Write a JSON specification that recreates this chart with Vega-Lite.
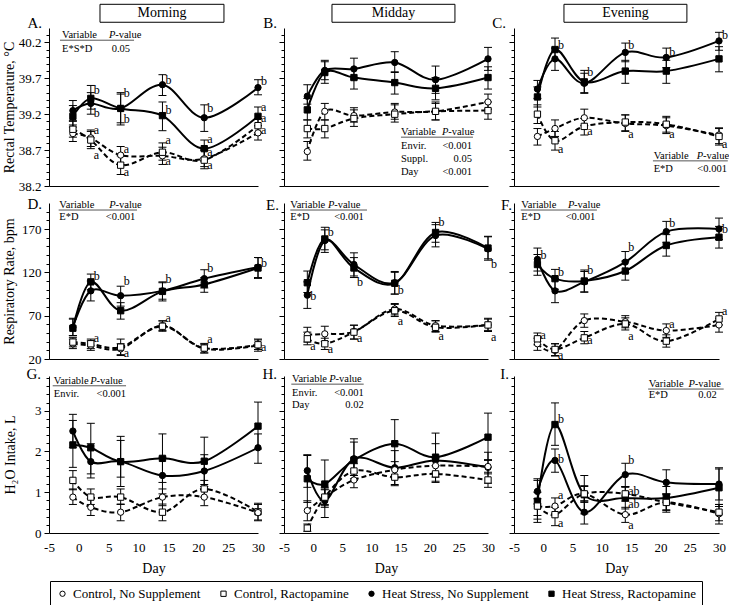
{
"$schema":"https://vega.github.io/schema/vega-lite/v6.json",
"bounds":"flush",
"columns":3,
"spacing":{"row":17,"column":26},
"padding":{"left":2,"top":3,"right":5,"bottom":30},
"config":{"view":{"stroke":null},"font":"Liberation Serif","text":{"font":"Liberation Serif","color":"black"},
"axis":{"labelFont":"Liberation Serif","labelFontSize":13,"labelColor":"black","titleFont":"Liberation Serif","titleFontSize":14,"titleFontWeight":"normal","titleColor":"black","domainColor":"black","tickColor":"black","grid":false}},
"datasets":{
"d":[
{"p":"A","g":"HN","d":-1,"m":39.25,"l":39.11,"h":39.39},{"p":"A","g":"HN","d":2,"m":39.35,"l":39.2,"h":39.5},{"p":"A","g":"HN","d":7,"m":39.28,"l":39.08,"h":39.48},{"p":"A","g":"HN","d":14,"m":39.61,"l":39.46,"h":39.75},{"p":"A","g":"HN","d":21,"m":39.15,"l":38.96,"h":39.33},{"p":"A","g":"HN","d":30,"m":39.57,"l":39.47,"h":39.68},
{"p":"A","g":"HR","d":-1,"m":39.17,"l":39.02,"h":39.32},{"p":"A","g":"HR","d":2,"m":39.42,"l":39.27,"h":39.6},{"p":"A","g":"HR","d":7,"m":39.28,"l":39.05,"h":39.5},{"p":"A","g":"HR","d":14,"m":39.18,"l":38.97,"h":39.37},{"p":"A","g":"HR","d":21,"m":38.72,"l":38.59,"h":38.84},{"p":"A","g":"HR","d":30,"m":39.17,"l":39.04,"h":39.3},
{"p":"A","g":"CN","d":-1,"m":38.93,"l":38.82,"h":39.05},{"p":"A","g":"CN","d":2,"m":38.87,"l":38.75,"h":38.98},{"p":"A","g":"CN","d":7,"m":38.63,"l":38.5,"h":38.75},{"p":"A","g":"CN","d":14,"m":38.62,"l":38.5,"h":38.74},{"p":"A","g":"CN","d":21,"m":38.58,"l":38.47,"h":38.7},{"p":"A","g":"CN","d":30,"m":38.94,"l":38.84,"h":39.04},
{"p":"A","g":"CR","d":-1,"m":38.99,"l":38.88,"h":39.1},{"p":"A","g":"CR","d":2,"m":38.84,"l":38.72,"h":38.96},{"p":"A","g":"CR","d":7,"m":38.49,"l":38.36,"h":38.62},{"p":"A","g":"CR","d":14,"m":38.67,"l":38.56,"h":38.8},{"p":"A","g":"CR","d":21,"m":38.56,"l":38.44,"h":38.7},{"p":"A","g":"CR","d":30,"m":39.04,"l":38.94,"h":39.14},
{"p":"B","g":"HN","d":-1,"m":39.45,"l":39.34,"h":39.61},{"p":"B","g":"HN","d":2,"m":39.81,"l":39.68,"h":39.95},{"p":"B","g":"HN","d":7,"m":39.83,"l":39.69,"h":39.98},{"p":"B","g":"HN","d":14,"m":39.92,"l":39.78,"h":40.07},{"p":"B","g":"HN","d":21,"m":39.68,"l":39.49,"h":39.87},{"p":"B","g":"HN","d":30,"m":39.97,"l":39.81,"h":40.13},
{"p":"B","g":"HR","d":-1,"m":39.26,"l":39.12,"h":39.42},{"p":"B","g":"HR","d":2,"m":39.78,"l":39.63,"h":39.93},{"p":"B","g":"HR","d":7,"m":39.71,"l":39.55,"h":39.84},{"p":"B","g":"HR","d":14,"m":39.64,"l":39.48,"h":39.79},{"p":"B","g":"HR","d":21,"m":39.56,"l":39.4,"h":39.71},{"p":"B","g":"HR","d":30,"m":39.71,"l":39.55,"h":39.86},
{"p":"B","g":"CN","d":-1,"m":38.68,"l":38.56,"h":38.82},{"p":"B","g":"CN","d":2,"m":39.24,"l":39.12,"h":39.35},{"p":"B","g":"CN","d":7,"m":39.18,"l":39.09,"h":39.29},{"p":"B","g":"CN","d":14,"m":39.23,"l":39.13,"h":39.35},{"p":"B","g":"CN","d":21,"m":39.24,"l":39.12,"h":39.37},{"p":"B","g":"CN","d":30,"m":39.37,"l":39.27,"h":39.48},
{"p":"B","g":"CR","d":-1,"m":39.0,"l":38.87,"h":39.12},{"p":"B","g":"CR","d":2,"m":39.0,"l":38.87,"h":39.12},{"p":"B","g":"CR","d":7,"m":39.14,"l":39.03,"h":39.26},{"p":"B","g":"CR","d":14,"m":39.2,"l":39.09,"h":39.33},{"p":"B","g":"CR","d":21,"m":39.24,"l":39.12,"h":39.35},{"p":"B","g":"CR","d":30,"m":39.25,"l":39.13,"h":39.37},
{"p":"C","g":"HN","d":-1,"m":39.55,"l":39.42,"h":39.67},{"p":"C","g":"HN","d":2,"m":39.97,"l":39.81,"h":40.12},{"p":"C","g":"HN","d":7,"m":39.63,"l":39.49,"h":39.77},{"p":"C","g":"HN","d":14,"m":40.06,"l":39.93,"h":40.19},{"p":"C","g":"HN","d":21,"m":39.99,"l":39.85,"h":40.12},{"p":"C","g":"HN","d":30,"m":40.22,"l":40.09,"h":40.34},
{"p":"C","g":"HR","d":-1,"m":39.44,"l":39.3,"h":39.58},{"p":"C","g":"HR","d":2,"m":40.1,"l":39.95,"h":40.26},{"p":"C","g":"HR","d":7,"m":39.65,"l":39.5,"h":39.81},{"p":"C","g":"HR","d":14,"m":39.8,"l":39.63,"h":39.95},{"p":"C","g":"HR","d":21,"m":39.8,"l":39.63,"h":39.95},{"p":"C","g":"HR","d":30,"m":39.97,"l":39.79,"h":40.14},
{"p":"C","g":"CN","d":-1,"m":38.89,"l":38.77,"h":39.0},{"p":"C","g":"CN","d":2,"m":39.0,"l":38.89,"h":39.12},{"p":"C","g":"CN","d":7,"m":39.15,"l":39.04,"h":39.27},{"p":"C","g":"CN","d":14,"m":39.07,"l":38.96,"h":39.19},{"p":"C","g":"CN","d":21,"m":39.04,"l":38.93,"h":39.15},{"p":"C","g":"CN","d":30,"m":38.91,"l":38.79,"h":39.01},
{"p":"C","g":"CR","d":-1,"m":39.2,"l":39.07,"h":39.33},{"p":"C","g":"CR","d":2,"m":38.83,"l":38.7,"h":38.96},{"p":"C","g":"CR","d":7,"m":39.03,"l":38.91,"h":39.14},{"p":"C","g":"CR","d":14,"m":39.09,"l":38.97,"h":39.19},{"p":"C","g":"CR","d":21,"m":39.06,"l":38.95,"h":39.17},{"p":"C","g":"CR","d":30,"m":38.89,"l":38.77,"h":39.0},
{"p":"D","g":"HR","d":-1,"m":55.5,"l":47,"h":66},{"p":"D","g":"HR","d":2,"m":109,"l":100,"h":118},{"p":"D","g":"HR","d":7,"m":75.7,"l":66,"h":85},{"p":"D","g":"HR","d":14,"m":98,"l":89,"h":108},{"p":"D","g":"HR","d":21,"m":106,"l":97,"h":114},{"p":"D","g":"HR","d":30,"m":125,"l":113,"h":137},
{"p":"D","g":"HN","d":-1,"m":56.6,"l":47,"h":67},{"p":"D","g":"HN","d":2,"m":98.6,"l":87,"h":110},{"p":"D","g":"HN","d":7,"m":93,"l":81,"h":104},{"p":"D","g":"HN","d":14,"m":98.6,"l":87,"h":109},{"p":"D","g":"HN","d":21,"m":112.7,"l":102,"h":123},{"p":"D","g":"HN","d":30,"m":126,"l":114,"h":137},
{"p":"D","g":"CN","d":-1,"m":37.6,"l":32,"h":43},{"p":"D","g":"CN","d":2,"m":35.6,"l":30,"h":41},{"p":"D","g":"CN","d":7,"m":31.8,"l":25,"h":37.6},{"p":"D","g":"CN","d":14,"m":58.5,"l":53,"h":64},{"p":"D","g":"CN","d":21,"m":31.8,"l":27,"h":37},{"p":"D","g":"CN","d":30,"m":35.6,"l":29,"h":43},
{"p":"D","g":"CR","d":-1,"m":39.5,"l":34,"h":45},{"p":"D","g":"CR","d":2,"m":37.6,"l":32,"h":43},{"p":"D","g":"CR","d":7,"m":33.7,"l":24,"h":43},{"p":"D","g":"CR","d":14,"m":57.8,"l":52,"h":64},{"p":"D","g":"CR","d":21,"m":32.6,"l":27,"h":38},{"p":"D","g":"CR","d":30,"m":36.4,"l":31,"h":42},
{"p":"E","g":"HR","d":-1,"m":108,"l":96.7,"h":121.5},{"p":"E","g":"HR","d":2,"m":158.5,"l":146,"h":172},{"p":"E","g":"HR","d":7,"m":125,"l":114,"h":137},{"p":"E","g":"HR","d":14,"m":107.4,"l":94.8,"h":121},{"p":"E","g":"HR","d":21,"m":166,"l":154.7,"h":177.6},{"p":"E","g":"HR","d":30,"m":148,"l":135.6,"h":161.6},
{"p":"E","g":"HN","d":-1,"m":93.7,"l":78.4,"h":109},{"p":"E","g":"HN","d":2,"m":156.6,"l":143,"h":169},{"p":"E","g":"HN","d":7,"m":129,"l":115.8,"h":142.5},{"p":"E","g":"HN","d":14,"m":108,"l":95,"h":120},{"p":"E","g":"HN","d":21,"m":162.4,"l":149.4,"h":175},{"p":"E","g":"HN","d":30,"m":147,"l":134,"h":161},
{"p":"E","g":"CN","d":-1,"m":47.9,"l":39.5,"h":56.6},{"p":"E","g":"CN","d":2,"m":49,"l":40.2,"h":57.8},{"p":"E","g":"CN","d":7,"m":51.7,"l":43,"h":59},{"p":"E","g":"CN","d":14,"m":77.6,"l":70.8,"h":84},{"p":"E","g":"CN","d":21,"m":58.5,"l":51.7,"h":64.3},{"p":"E","g":"CN","d":30,"m":59.3,"l":51.7,"h":67},
{"p":"E","g":"CR","d":-1,"m":43.3,"l":36.4,"h":51},{"p":"E","g":"CR","d":2,"m":37.6,"l":31,"h":44},{"p":"E","g":"CR","d":7,"m":51,"l":43,"h":59},{"p":"E","g":"CR","d":14,"m":75.7,"l":69,"h":83},{"p":"E","g":"CR","d":21,"m":56.6,"l":51,"h":64},{"p":"E","g":"CR","d":30,"m":59.3,"l":53,"h":66},
{"p":"F","g":"HN","d":-1,"m":134.9,"l":121.5,"h":148},{"p":"F","g":"HN","d":2,"m":98.6,"l":85,"h":112.7},{"p":"F","g":"HN","d":7,"m":109,"l":97,"h":121},{"p":"F","g":"HN","d":14,"m":131.8,"l":119.6,"h":144},{"p":"F","g":"HN","d":21,"m":167,"l":154.7,"h":178.8},{"p":"F","g":"HN","d":30,"m":170,"l":157.8,"h":182.6},
{"p":"F","g":"HR","d":-1,"m":129,"l":116.6,"h":140.6},{"p":"F","g":"HR","d":2,"m":112.7,"l":100.5,"h":123.4},{"p":"F","g":"HR","d":7,"m":110,"l":97.5,"h":122.7},{"p":"F","g":"HR","d":14,"m":121.5,"l":111,"h":133},{"p":"F","g":"HR","d":21,"m":151,"l":138.7,"h":163.5},{"p":"F","g":"HR","d":30,"m":160.5,"l":148,"h":173},
{"p":"F","g":"CN","d":-1,"m":37.6,"l":30,"h":44},{"p":"F","g":"CN","d":2,"m":29.9,"l":23.4,"h":37.6},{"p":"F","g":"CN","d":7,"m":64.3,"l":56.6,"h":72},{"p":"F","g":"CN","d":14,"m":63,"l":56,"h":70},{"p":"F","g":"CN","d":21,"m":52.8,"l":45,"h":60.5},{"p":"F","g":"CN","d":30,"m":59.3,"l":51,"h":67},
{"p":"F","g":"CR","d":-1,"m":43.3,"l":36.4,"h":50},{"p":"F","g":"CR","d":2,"m":31,"l":24,"h":37.6},{"p":"F","g":"CR","d":7,"m":44.4,"l":37.6,"h":51.7},{"p":"F","g":"CR","d":14,"m":60.5,"l":53.5,"h":67.5},{"p":"F","g":"CR","d":21,"m":40.6,"l":33.7,"h":47.9},{"p":"F","g":"CR","d":30,"m":66.2,"l":59.3,"h":73.8},
{"p":"G","g":"HR","d":-1,"m":2.16,"l":1.61,"h":2.76},{"p":"G","g":"HR","d":2,"m":2.09,"l":1.45,"h":2.69},{"p":"G","g":"HR","d":7,"m":1.75,"l":1.14,"h":2.37},{"p":"G","g":"HR","d":14,"m":1.83,"l":1.24,"h":2.43},{"p":"G","g":"HR","d":21,"m":1.76,"l":1.19,"h":2.35},{"p":"G","g":"HR","d":30,"m":2.62,"l":2.06,"h":3.21},
{"p":"G","g":"HN","d":-1,"m":2.5,"l":2.09,"h":2.91},{"p":"G","g":"HN","d":2,"m":1.75,"l":1.35,"h":2.19},{"p":"G","g":"HN","d":7,"m":1.75,"l":1.37,"h":2.27},{"p":"G","g":"HN","d":14,"m":1.41,"l":0.96,"h":1.86},{"p":"G","g":"HN","d":21,"m":1.52,"l":1.14,"h":1.92},{"p":"G","g":"HN","d":30,"m":2.09,"l":1.71,"h":2.43},
{"p":"G","g":"CR","d":-1,"m":1.29,"l":1.06,"h":1.53},{"p":"G","g":"CR","d":2,"m":0.88,"l":0.7,"h":1.08},{"p":"G","g":"CR","d":7,"m":0.88,"l":0.7,"h":1.08},{"p":"G","g":"CR","d":14,"m":0.51,"l":0.3,"h":0.71},{"p":"G","g":"CR","d":21,"m":1.08,"l":0.88,"h":1.29},{"p":"G","g":"CR","d":30,"m":0.52,"l":0.32,"h":0.73},
{"p":"G","g":"CN","d":-1,"m":0.88,"l":0.7,"h":1.08},{"p":"G","g":"CN","d":2,"m":0.63,"l":0.43,"h":0.84},{"p":"G","g":"CN","d":7,"m":0.51,"l":0.3,"h":0.71},{"p":"G","g":"CN","d":14,"m":0.88,"l":0.67,"h":1.08},{"p":"G","g":"CN","d":21,"m":0.88,"l":0.67,"h":1.08},{"p":"G","g":"CN","d":30,"m":0.5,"l":0.3,"h":0.7},
{"p":"H","g":"HN","d":-1,"m":1.53,"l":1.12,"h":1.92},{"p":"H","g":"HN","d":2,"m":0.79,"l":0.38,"h":1.12},{"p":"H","g":"HN","d":7,"m":1.82,"l":1.41,"h":2.23},{"p":"H","g":"HN","d":14,"m":1.6,"l":1.19,"h":2.02},{"p":"H","g":"HN","d":21,"m":1.78,"l":1.37,"h":2.19},{"p":"H","g":"HN","d":30,"m":1.61,"l":1.22,"h":1.98},
{"p":"H","g":"HR","d":-1,"m":1.33,"l":0.75,"h":1.9},{"p":"H","g":"HR","d":2,"m":1.2,"l":0.63,"h":1.79},{"p":"H","g":"HR","d":7,"m":1.79,"l":1.29,"h":2.31},{"p":"H","g":"HR","d":14,"m":2.19,"l":1.6,"h":2.78},{"p":"H","g":"HR","d":21,"m":1.86,"l":1.27,"h":2.45},{"p":"H","g":"HR","d":30,"m":2.35,"l":1.78,"h":2.94},
{"p":"H","g":"CN","d":-1,"m":0.55,"l":0.3,"h":0.79},{"p":"H","g":"CN","d":2,"m":0.88,"l":0.67,"h":1.08},{"p":"H","g":"CN","d":7,"m":1.3,"l":1.11,"h":1.49},{"p":"H","g":"CN","d":14,"m":1.55,"l":1.35,"h":1.75},{"p":"H","g":"CN","d":21,"m":1.65,"l":1.47,"h":1.84},{"p":"H","g":"CN","d":30,"m":1.63,"l":1.45,"h":1.8},
{"p":"H","g":"CR","d":-1,"m":0.12,"l":0.04,"h":0.22},{"p":"H","g":"CR","d":2,"m":0.88,"l":0.7,"h":1.06},{"p":"H","g":"CR","d":7,"m":1.52,"l":1.33,"h":1.7},{"p":"H","g":"CR","d":14,"m":1.37,"l":1.16,"h":1.57},{"p":"H","g":"CR","d":21,"m":1.45,"l":1.24,"h":1.65},{"p":"H","g":"CR","d":30,"m":1.3,"l":1.12,"h":1.49},
{"p":"I","g":"HN","d":-1,"m":1.02,"l":0.71,"h":1.33},{"p":"I","g":"HN","d":2,"m":1.78,"l":1.49,"h":2.06},{"p":"I","g":"HN","d":7,"m":0.51,"l":0.22,"h":0.79},{"p":"I","g":"HN","d":14,"m":1.43,"l":1.14,"h":1.71},{"p":"I","g":"HN","d":21,"m":1.24,"l":0.94,"h":1.55},{"p":"I","g":"HN","d":30,"m":1.2,"l":0.81,"h":1.6},
{"p":"I","g":"HR","d":-1,"m":0.78,"l":0.34,"h":1.29},{"p":"I","g":"HR","d":2,"m":2.66,"l":2.15,"h":3.19},{"p":"I","g":"HR","d":7,"m":0.94,"l":0.47,"h":1.41},{"p":"I","g":"HR","d":14,"m":0.86,"l":0.59,"h":1.12},{"p":"I","g":"HR","d":21,"m":0.86,"l":0.57,"h":1.14},{"p":"I","g":"HR","d":30,"m":1.11,"l":0.65,"h":1.57},
{"p":"I","g":"CN","d":-1,"m":0.66,"l":0.26,"h":1.0},{"p":"I","g":"CN","d":2,"m":0.66,"l":0.47,"h":0.86},{"p":"I","g":"CN","d":7,"m":0.96,"l":0.75,"h":1.16},{"p":"I","g":"CN","d":14,"m":0.45,"l":0.26,"h":0.63},{"p":"I","g":"CN","d":21,"m":0.75,"l":0.55,"h":0.96},{"p":"I","g":"CN","d":30,"m":0.47,"l":0.22,"h":0.7},
{"p":"I","g":"CR","d":-1,"m":0.66,"l":0.43,"h":0.84},{"p":"I","g":"CR","d":2,"m":0.45,"l":0.18,"h":0.63},{"p":"I","g":"CR","d":7,"m":0.96,"l":0.78,"h":1.14},{"p":"I","g":"CR","d":14,"m":0.96,"l":0.78,"h":1.14},{"p":"I","g":"CR","d":21,"m":0.75,"l":0.51,"h":0.96},{"p":"I","g":"CR","d":30,"m":0.51,"l":0.3,"h":0.7}
],
"lt":[
{"p":"A","d":2,"m":39.54,"t":"b"},{"p":"A","d":2,"m":39.21,"t":"b"},{"p":"A","d":2,"m":38.98,"t":"a"},{"p":"A","d":2,"m":38.63,"t":"a"},
{"p":"A","d":7,"m":39.49,"t":"b"},{"p":"A","d":7,"m":39.13,"t":"b"},{"p":"A","d":7,"m":38.72,"t":"a"},{"p":"A","d":7,"m":38.39,"t":"a"},
{"p":"A","d":14,"m":39.68,"t":"b"},{"p":"A","d":14,"m":39.26,"t":"b"},{"p":"A","d":14,"m":38.84,"t":"a"},{"p":"A","d":14,"m":38.55,"t":"a"},
{"p":"A","d":21,"m":39.28,"t":"b"},{"p":"A","d":21,"m":38.86,"t":"a"},{"p":"A","d":21,"m":38.68,"t":"a"},{"p":"A","d":21,"m":38.49,"t":"a"},
{"p":"A","d":30,"m":39.66,"t":"b"},{"p":"A","d":30,"m":39.3,"t":"a"},{"p":"A","d":30,"m":39.14,"t":"a"},{"p":"A","d":30,"m":38.98,"t":"a"},
{"p":"C","d":2,"m":40.17,"t":"b"},{"p":"C","d":2,"m":38.72,"t":"a"},{"p":"C","d":7,"m":39.79,"t":"b"},{"p":"C","d":7,"m":38.96,"t":"a"},{"p":"C","d":14,"m":40.17,"t":"b"},{"p":"C","d":14,"m":38.93,"t":"a"},{"p":"C","d":21,"m":40.06,"t":"b"},{"p":"C","d":21,"m":38.92,"t":"a"},{"p":"C","d":30,"m":40.3,"t":"b"},{"p":"C","d":30,"m":38.79,"t":"a"},
{"p":"D","d":2,"m":115.8,"t":"b"},{"p":"D","d":2,"m":44,"t":"a"},{"p":"D","d":7,"m":110,"t":"b"},{"p":"D","d":7,"m":27.3,"t":"a"},{"p":"D","d":14,"m":112.7,"t":"b"},{"p":"D","d":14,"m":67,"t":"a"},{"p":"D","d":21,"m":125.3,"t":"b"},{"p":"D","d":21,"m":43.3,"t":"a"},{"p":"D","d":30,"m":131,"t":"b"},{"p":"D","d":30,"m":33.7,"t":"a"},
{"p":"E","d":-1,"m":92.9,"t":"b"},{"p":"E","d":-1,"m":34.9,"t":"a"},{"p":"E","d":2,"m":166.2,"t":"b"},{"p":"E","d":2,"m":31.8,"t":"a"},{"p":"E","d":7,"m":109,"t":"b"},{"p":"E","d":7,"m":44,"t":"a"},{"p":"E","d":14,"m":99.8,"t":"b"},{"p":"E","d":14,"m":64.3,"t":"a"},{"p":"E","d":21,"m":177.6,"t":"b"},{"p":"E","d":21,"m":46.3,"t":"a"},{"p":"E","d":30,"m":130,"t":"b"},{"p":"E","d":30,"m":45,"t":"a"},
{"p":"F","d":-1,"m":139.5,"t":"b"},{"p":"F","d":-1,"m":47.9,"t":"a"},{"p":"F","d":2,"m":120.8,"t":"b"},{"p":"F","d":2,"m":25,"t":"a"},{"p":"F","d":7,"m":122.7,"t":"b"},{"p":"F","d":7,"m":42.5,"t":"a"},{"p":"F","d":14,"m":149,"t":"b"},{"p":"F","d":14,"m":46.3,"t":"a"},{"p":"F","d":21,"m":176.9,"t":"b"},{"p":"F","d":21,"m":60.5,"t":"a"},{"p":"F","d":30,"m":170,"t":"b"},{"p":"F","d":30,"m":75,"t":"a"},
{"p":"I","d":2,"m":2.8,"t":"b"},{"p":"I","d":2,"m":1.82,"t":"b"},{"p":"I","d":2,"m":0.94,"t":"a"},{"p":"I","d":2,"m":0.25,"t":"a"},{"p":"I","d":14,"m":1.79,"t":"b"},{"p":"I","d":14,"m":1.02,"t":"ab"},{"p":"I","d":14,"m":0.71,"t":"ab"},{"p":"I","d":14,"m":0.2,"t":"a"}
]},
"concat":[
{"width":209,"height":158,"resolve":{"axis":{"x":"independent","y":"independent"}},"layer":[
{"encoding":{"x":{"field":"d","type":"quantitative","scale":{"domain":[-5,30],"nice":false,"zero":false},"axis":{"title":null,"labels":false,"ticks":false}},
"y":{"field":"m","type":"quantitative","scale":{"domain":[38.2,40.4],"nice":false,"zero":false},"axis":{"title":"Rectal Temperature, °C","values":[38.2,38.3,38.4,38.5,38.6,38.7,38.8,38.9,39,39.1,39.2,39.3,39.4,39.5,39.6,39.7,39.8,39.9,40,40.1,40.2,40.3],"labelExpr":"round(datum.value*10)%5==2?format(datum.value,'.1f'):''","tickSize":{"condition":{"test":"round(datum.value*10)%5==2","value":5},"value":3},"labelPadding":3,"titlePadding":2,"labelOverlap":false,"labelFlush":false,"labelBound":false}}},
"layer":[
{"data":{"name":"d"},"transform":[{"filter":"datum.p=='A'"}],"mark":{"type":"rule","color":"black","strokeWidth":1},"encoding":{"y":{"field":"l","type":"quantitative"},"y2":{"field":"h"}}},
{"data":{"name":"d"},"transform":[{"filter":"datum.p=='A'"},{"fold":["l","h"],"as":["k","m"]}],"mark":{"type":"tick","orient":"horizontal","color":"black","size":8,"thickness":1,"opacity":1}},
{"data":{"name":"d"},"transform":[{"filter":"datum.p=='A'&&(datum.g=='CN'||datum.g=='CR')"}],"mark":{"type":"line","interpolate":"cardinal","tension":0,"color":"black","strokeWidth":2,"strokeDash":[5,3]},"encoding":{"detail":{"field":"g"}}},
{"data":{"name":"d"},"transform":[{"filter":"datum.p=='A'&&(datum.g=='HN'||datum.g=='HR')"}],"mark":{"type":"line","interpolate":"cardinal","tension":0,"color":"black","strokeWidth":2},"encoding":{"detail":{"field":"g"}}},
{"data":{"name":"d"},"transform":[{"filter":"datum.p=='A'"}],"mark":{"type":"point","filled":false,"size":40,"stroke":"black","strokeWidth":1,"opacity":1},"encoding":{
"shape":{"field":"g","type":"nominal","title":null,"scale":{"domain":["CN","CR","HN","HR"],"range":["circle","square","circle","square"]},"legend":{"orient":"none","legendX":1,"legendY":553,"direction":"horizontal","title":null,"strokeColor":"black","fillColor":"white","padding":6,"symbolSize":28,"symbolStrokeColor":"black","symbolStrokeWidth":1,"symbolOpacity":1,"labelFont":"Liberation Serif","labelFontSize":13,"labelColor":"black","labelOffset":4,"columnPadding":16,"labelLimit":0,"encode":{"symbols":{"update":{"stroke":{"value":"black"},"strokeWidth":{"value":1}}}},"labelExpr":"datum.label=='CN'?'Control, No Supplement':datum.label=='CR'?'Control, Ractopamine':datum.label=='HN'?'Heat Stress, No Supplement':'Heat Stress, Ractopamine'"}},
"fill":{"field":"g","type":"nominal","title":null,"scale":{"domain":["CN","CR","HN","HR"],"range":["white","white","black","black"]},"legend":{"orient":"none","legendX":1,"legendY":553,"direction":"horizontal","title":null,"strokeColor":"black","fillColor":"white","padding":6,"symbolSize":28,"symbolStrokeColor":"black","symbolStrokeWidth":1,"symbolOpacity":1,"labelFont":"Liberation Serif","labelFontSize":13,"labelColor":"black","labelOffset":4,"columnPadding":16,"labelLimit":0,"encode":{"symbols":{"update":{"stroke":{"value":"black"},"strokeWidth":{"value":1}}}},"labelExpr":"datum.label=='CN'?'Control, No Supplement':datum.label=='CR'?'Control, Ractopamine':datum.label=='HN'?'Heat Stress, No Supplement':'Heat Stress, Ractopamine'"}}}},
{"data":{"name":"lt"},"transform":[{"filter":"datum.p=='A'"}],"mark":{"type":"text","align":"left","baseline":"middle","dx":3,"fontSize":12},"encoding":{"text":{"field":"t"}}}
]},
{"data":{"values":[{}]},"mark":{"type":"text","text":"Variable","align":"left","baseline":"middle","fontSize":10.5},"encoding":{"x":{"datum":-2.82,"axis":null},"y":{"datum":40.3,"axis":null}}},
{"data":{"values":[{}]},"mark":{"type":"text","text":"P","fontStyle":"italic","align":"left","baseline":"middle","fontSize":10.5},"encoding":{"x":{"datum":5.05,"axis":null},"y":{"datum":40.3,"axis":null}}},
{"data":{"values":[{}]},"mark":{"type":"text","text":"-value","align":"left","baseline":"middle","dx":6.2,"fontSize":10.5},"encoding":{"x":{"datum":5.05,"axis":null},"y":{"datum":40.3,"axis":null}}},
{"data":{"values":[{}]},"mark":{"type":"rule","color":"#555555","strokeWidth":1},"encoding":{"x":{"datum":-3.16,"axis":null},"x2":{"datum":9.24},"y":{"datum":40.23,"axis":null}}},
{"data":{"values":[{}]},"mark":{"type":"text","text":"E*S*D","align":"left","baseline":"middle","fontSize":10.5},"encoding":{"x":{"datum":-2.82,"axis":null},"y":{"datum":40.11,"axis":null}}},
{"data":{"values":[{}]},"mark":{"type":"text","text":"0.05","align":"right","baseline":"middle","fontSize":10.5},"encoding":{"x":{"datum":8.57,"axis":null},"y":{"datum":40.11,"axis":null}}},
{"data":{"values":[{}]},"mark":{"type":"text","text":"A.","align":"right","baseline":"middle","dx":-7,"dy":-5,"fontSize":15},"encoding":{"x":{"datum":-5,"axis":null},"y":{"datum":40.4,"axis":null}}},
{"data":{"values":[{}]},"mark":{"type":"rect","fill":"white","stroke":"black","strokeWidth":1},"encoding":{"x":{"datum":3.54,"axis":null},"x2":{"datum":24.3},"y":{"datum":40.48,"axis":null},"y2":{"datum":40.73}}},
{"data":{"values":[{}]},"mark":{"type":"text","text":"Morning","align":"center","baseline":"middle","fontSize":14},"encoding":{"x":{"datum":13.92,"axis":null},"y":{"datum":40.605,"axis":null}}}
]},
{"width":204,"height":158,"resolve":{"axis":{"x":"independent","y":"independent"}},"layer":[
{"encoding":{"x":{"field":"d","type":"quantitative","scale":{"domain":[-5,30],"nice":false,"zero":false},"axis":{"title":null,"labels":false,"ticks":false}},
"y":{"field":"m","type":"quantitative","scale":{"domain":[38.2,40.4],"nice":false,"zero":false},"axis":{"title":null,"labels":false,"values":[38.2,38.3,38.4,38.5,38.6,38.7,38.8,38.9,39,39.1,39.2,39.3,39.4,39.5,39.6,39.7,39.8,39.9,40,40.1,40.2,40.3],"tickSize":{"condition":{"test":"round(datum.value*10)%5==2","value":5},"value":3}}}},
"layer":[
{"data":{"name":"d"},"transform":[{"filter":"datum.p=='B'"}],"mark":{"type":"rule","color":"black","strokeWidth":1},"encoding":{"y":{"field":"l","type":"quantitative"},"y2":{"field":"h"}}},
{"data":{"name":"d"},"transform":[{"filter":"datum.p=='B'"},{"fold":["l","h"],"as":["k","m"]}],"mark":{"type":"tick","orient":"horizontal","color":"black","size":8,"thickness":1,"opacity":1}},
{"data":{"name":"d"},"transform":[{"filter":"datum.p=='B'&&(datum.g=='CN'||datum.g=='CR')"}],"mark":{"type":"line","interpolate":"cardinal","tension":0,"color":"black","strokeWidth":2,"strokeDash":[5,3]},"encoding":{"detail":{"field":"g"}}},
{"data":{"name":"d"},"transform":[{"filter":"datum.p=='B'&&(datum.g=='HN'||datum.g=='HR')"}],"mark":{"type":"line","interpolate":"cardinal","tension":0,"color":"black","strokeWidth":2},"encoding":{"detail":{"field":"g"}}},
{"data":{"name":"d"},"transform":[{"filter":"datum.p=='B'"}],"mark":{"type":"point","filled":false,"size":40,"stroke":"black","strokeWidth":1,"opacity":1},"encoding":{"shape":{"field":"g","type":"nominal","title":null,"scale":{"domain":["CN","CR","HN","HR"],"range":["circle","square","circle","square"]}},"fill":{"field":"g","type":"nominal","title":null,"scale":{"domain":["CN","CR","HN","HR"],"range":["white","white","black","black"]}}}}
]},
{"data":{"values":[{}]},"mark":{"type":"text","text":"Variable","align":"left","baseline":"middle","fontSize":10.5},"encoding":{"x":{"datum":15.07,"axis":null},"y":{"datum":38.95,"axis":null}}},
{"data":{"values":[{}]},"mark":{"type":"text","text":"P","fontStyle":"italic","align":"left","baseline":"middle","fontSize":10.5},"encoding":{"x":{"datum":22.1,"axis":null},"y":{"datum":38.95,"axis":null}}},
{"data":{"values":[{}]},"mark":{"type":"text","text":"-value","align":"left","baseline":"middle","dx":6.2,"fontSize":10.5},"encoding":{"x":{"datum":22.1,"axis":null},"y":{"datum":38.95,"axis":null}}},
{"data":{"values":[{}]},"mark":{"type":"rule","color":"#555555","strokeWidth":1},"encoding":{"x":{"datum":15.07,"axis":null},"x2":{"datum":27.42},"y":{"datum":38.88,"axis":null}}},
{"data":{"values":[{}]},"mark":{"type":"text","text":["Envir.","Suppl.","Day"],"lineHeight":13,"align":"left","baseline":"middle","fontSize":10.5},"encoding":{"x":{"datum":15.07,"axis":null},"y":{"datum":38.757,"axis":null}}},
{"data":{"values":[{}]},"mark":{"type":"text","text":["<0.001","0.05","<0.001"],"lineHeight":13,"align":"right","baseline":"middle","fontSize":10.5},"encoding":{"x":{"datum":27.25,"axis":null},"y":{"datum":38.757,"axis":null}}},
{"data":{"values":[{}]},"mark":{"type":"text","text":"B.","align":"right","baseline":"middle","dx":-7,"dy":-5,"fontSize":15},"encoding":{"x":{"datum":-5,"axis":null},"y":{"datum":40.4,"axis":null}}},
{"data":{"values":[{}]},"mark":{"type":"rect","fill":"white","stroke":"black","strokeWidth":1},"encoding":{"x":{"datum":3.23,"axis":null},"x2":{"datum":24.33},"y":{"datum":40.48,"axis":null},"y2":{"datum":40.73}}},
{"data":{"values":[{}]},"mark":{"type":"text","text":"Midday","align":"center","baseline":"middle","fontSize":14},"encoding":{"x":{"datum":13.78,"axis":null},"y":{"datum":40.605,"axis":null}}}
]},
{"width":205,"height":158,"resolve":{"axis":{"x":"independent","y":"independent"}},"layer":[
{"encoding":{"x":{"field":"d","type":"quantitative","scale":{"domain":[-5,30],"nice":false,"zero":false},"axis":{"title":null,"labels":false,"ticks":false}},
"y":{"field":"m","type":"quantitative","scale":{"domain":[38.2,40.4],"nice":false,"zero":false},"axis":{"title":null,"labels":false,"values":[38.2,38.3,38.4,38.5,38.6,38.7,38.8,38.9,39,39.1,39.2,39.3,39.4,39.5,39.6,39.7,39.8,39.9,40,40.1,40.2,40.3],"tickSize":{"condition":{"test":"round(datum.value*10)%5==2","value":5},"value":3}}}},
"layer":[
{"data":{"name":"d"},"transform":[{"filter":"datum.p=='C'"}],"mark":{"type":"rule","color":"black","strokeWidth":1},"encoding":{"y":{"field":"l","type":"quantitative"},"y2":{"field":"h"}}},
{"data":{"name":"d"},"transform":[{"filter":"datum.p=='C'"},{"fold":["l","h"],"as":["k","m"]}],"mark":{"type":"tick","orient":"horizontal","color":"black","size":8,"thickness":1,"opacity":1}},
{"data":{"name":"d"},"transform":[{"filter":"datum.p=='C'&&(datum.g=='CN'||datum.g=='CR')"}],"mark":{"type":"line","interpolate":"cardinal","tension":0,"color":"black","strokeWidth":2,"strokeDash":[5,3]},"encoding":{"detail":{"field":"g"}}},
{"data":{"name":"d"},"transform":[{"filter":"datum.p=='C'&&(datum.g=='HN'||datum.g=='HR')"}],"mark":{"type":"line","interpolate":"cardinal","tension":0,"color":"black","strokeWidth":2},"encoding":{"detail":{"field":"g"}}},
{"data":{"name":"d"},"transform":[{"filter":"datum.p=='C'"}],"mark":{"type":"point","filled":false,"size":40,"stroke":"black","strokeWidth":1,"opacity":1},"encoding":{"shape":{"field":"g","type":"nominal","title":null,"scale":{"domain":["CN","CR","HN","HR"],"range":["circle","square","circle","square"]}},"fill":{"field":"g","type":"nominal","title":null,"scale":{"domain":["CN","CR","HN","HR"],"range":["white","white","black","black"]}}}},
{"data":{"name":"lt"},"transform":[{"filter":"datum.p=='C'"}],"mark":{"type":"text","align":"left","baseline":"middle","dx":3,"fontSize":12},"encoding":{"text":{"field":"t"}}}
]},
{"data":{"values":[{}]},"mark":{"type":"text","text":"Variable","align":"left","baseline":"middle","fontSize":10.5},"encoding":{"x":{"datum":18.84,"axis":null},"y":{"datum":38.62,"axis":null}}},
{"data":{"values":[{}]},"mark":{"type":"text","text":"P","fontStyle":"italic","align":"left","baseline":"middle","fontSize":10.5},"encoding":{"x":{"datum":26.2,"axis":null},"y":{"datum":38.62,"axis":null}}},
{"data":{"values":[{}]},"mark":{"type":"text","text":"-value","align":"left","baseline":"middle","dx":6.2,"fontSize":10.5},"encoding":{"x":{"datum":26.2,"axis":null},"y":{"datum":38.62,"axis":null}}},
{"data":{"values":[{}]},"mark":{"type":"rule","color":"#555555","strokeWidth":1},"encoding":{"x":{"datum":18.72,"axis":null},"x2":{"datum":31.5},"y":{"datum":38.55,"axis":null}}},
{"data":{"values":[{}]},"mark":{"type":"text","text":"E*D","align":"left","baseline":"middle","fontSize":10.5},"encoding":{"x":{"datum":18.84,"axis":null},"y":{"datum":38.44,"axis":null}}},
{"data":{"values":[{}]},"mark":{"type":"text","text":"<0.001","align":"right","baseline":"middle","fontSize":10.5},"encoding":{"x":{"datum":31.35,"axis":null},"y":{"datum":38.44,"axis":null}}},
{"data":{"values":[{}]},"mark":{"type":"text","text":"C.","align":"right","baseline":"middle","dx":-8,"dy":-5,"fontSize":15},"encoding":{"x":{"datum":-5,"axis":null},"y":{"datum":40.4,"axis":null}}},
{"data":{"values":[{}]},"mark":{"type":"rect","fill":"white","stroke":"black","strokeWidth":1},"encoding":{"x":{"datum":3.53,"axis":null},"x2":{"datum":24.52},"y":{"datum":40.48,"axis":null},"y2":{"datum":40.73}}},
{"data":{"values":[{}]},"mark":{"type":"text","text":"Evening","align":"center","baseline":"middle","fontSize":14},"encoding":{"x":{"datum":14.03,"axis":null},"y":{"datum":40.605,"axis":null}}}
]},
{"width":209,"height":156,"resolve":{"axis":{"x":"independent","y":"independent"}},"layer":[
{"encoding":{"x":{"field":"d","type":"quantitative","scale":{"domain":[-5,30],"nice":false,"zero":false},"axis":{"title":null,"labels":false,"ticks":false}},
"y":{"field":"m","type":"quantitative","scale":{"domain":[20,200],"nice":false,"zero":false},"axis":{"title":"Respiratory Rate, bpm","values":[20,30,40,50,60,70,80,90,100,110,120,130,140,150,160,170,180,190],"labelExpr":"(datum.value-20)%50==0?format(datum.value,'.0f'):''","tickSize":{"condition":{"test":"(datum.value-20)%50==0","value":5},"value":3},"labelPadding":3,"titlePadding":5,"labelOverlap":false,"labelFlush":false,"labelBound":false}}},
"layer":[
{"data":{"name":"d"},"transform":[{"filter":"datum.p=='D'"}],"mark":{"type":"rule","color":"black","strokeWidth":1},"encoding":{"y":{"field":"l","type":"quantitative"},"y2":{"field":"h"}}},
{"data":{"name":"d"},"transform":[{"filter":"datum.p=='D'"},{"fold":["l","h"],"as":["k","m"]}],"mark":{"type":"tick","orient":"horizontal","color":"black","size":8,"thickness":1,"opacity":1}},
{"data":{"name":"d"},"transform":[{"filter":"datum.p=='D'&&(datum.g=='CN'||datum.g=='CR')"}],"mark":{"type":"line","interpolate":"cardinal","tension":0,"color":"black","strokeWidth":2,"strokeDash":[5,3]},"encoding":{"detail":{"field":"g"}}},
{"data":{"name":"d"},"transform":[{"filter":"datum.p=='D'&&(datum.g=='HN'||datum.g=='HR')"}],"mark":{"type":"line","interpolate":"cardinal","tension":0,"color":"black","strokeWidth":2},"encoding":{"detail":{"field":"g"}}},
{"data":{"name":"d"},"transform":[{"filter":"datum.p=='D'"}],"mark":{"type":"point","filled":false,"size":40,"stroke":"black","strokeWidth":1,"opacity":1},"encoding":{"shape":{"field":"g","type":"nominal","title":null,"scale":{"domain":["CN","CR","HN","HR"],"range":["circle","square","circle","square"]}},"fill":{"field":"g","type":"nominal","title":null,"scale":{"domain":["CN","CR","HN","HR"],"range":["white","white","black","black"]}}}},
{"data":{"name":"lt"},"transform":[{"filter":"datum.p=='D'"}],"mark":{"type":"text","align":"left","baseline":"middle","dx":3,"fontSize":12},"encoding":{"text":{"field":"t"}}}
]},
{"data":{"values":[{}]},"mark":{"type":"text","text":"Variable","align":"left","baseline":"middle","fontSize":10.5},"encoding":{"x":{"datum":-3.27,"axis":null},"y":{"datum":197.7,"axis":null}}},
{"data":{"values":[{}]},"mark":{"type":"text","text":"P","fontStyle":"italic","align":"left","baseline":"middle","fontSize":10.5},"encoding":{"x":{"datum":5.1,"axis":null},"y":{"datum":197.7,"axis":null}}},
{"data":{"values":[{}]},"mark":{"type":"text","text":"-value","align":"left","baseline":"middle","dx":6.2,"fontSize":10.5},"encoding":{"x":{"datum":5.1,"axis":null},"y":{"datum":197.7,"axis":null}}},
{"data":{"values":[{}]},"mark":{"type":"rule","color":"#555555","strokeWidth":1},"encoding":{"x":{"datum":-3.38,"axis":null},"x2":{"datum":9.74},"y":{"datum":191.9,"axis":null}}},
{"data":{"values":[{}]},"mark":{"type":"text","text":"E*D","align":"left","baseline":"middle","fontSize":10.5},"encoding":{"x":{"datum":-3.27,"axis":null},"y":{"datum":183.8,"axis":null}}},
{"data":{"values":[{}]},"mark":{"type":"text","text":"<0.001","align":"right","baseline":"middle","fontSize":10.5},"encoding":{"x":{"datum":9.46,"axis":null},"y":{"datum":183.8,"axis":null}}},
{"data":{"values":[{}]},"mark":{"type":"text","text":"D.","align":"right","baseline":"middle","dx":-7,"dy":1,"fontSize":15},"encoding":{"x":{"datum":-5,"axis":null},"y":{"datum":200,"axis":null}}}
]},
{"width":204,"height":156,"resolve":{"axis":{"x":"independent","y":"independent"}},"layer":[
{"encoding":{"x":{"field":"d","type":"quantitative","scale":{"domain":[-5,30],"nice":false,"zero":false},"axis":{"title":null,"labels":false,"ticks":false}},
"y":{"field":"m","type":"quantitative","scale":{"domain":[20,200],"nice":false,"zero":false},"axis":{"title":null,"labels":false,"values":[20,30,40,50,60,70,80,90,100,110,120,130,140,150,160,170,180,190],"tickSize":{"condition":{"test":"(datum.value-20)%50==0","value":5},"value":3}}}},
"layer":[
{"data":{"name":"d"},"transform":[{"filter":"datum.p=='E'"}],"mark":{"type":"rule","color":"black","strokeWidth":1},"encoding":{"y":{"field":"l","type":"quantitative"},"y2":{"field":"h"}}},
{"data":{"name":"d"},"transform":[{"filter":"datum.p=='E'"},{"fold":["l","h"],"as":["k","m"]}],"mark":{"type":"tick","orient":"horizontal","color":"black","size":8,"thickness":1,"opacity":1}},
{"data":{"name":"d"},"transform":[{"filter":"datum.p=='E'&&(datum.g=='CN'||datum.g=='CR')"}],"mark":{"type":"line","interpolate":"cardinal","tension":0,"color":"black","strokeWidth":2,"strokeDash":[5,3]},"encoding":{"detail":{"field":"g"}}},
{"data":{"name":"d"},"transform":[{"filter":"datum.p=='E'&&(datum.g=='HN'||datum.g=='HR')"}],"mark":{"type":"line","interpolate":"cardinal","tension":0,"color":"black","strokeWidth":2},"encoding":{"detail":{"field":"g"}}},
{"data":{"name":"d"},"transform":[{"filter":"datum.p=='E'"}],"mark":{"type":"point","filled":false,"size":40,"stroke":"black","strokeWidth":1,"opacity":1},"encoding":{"shape":{"field":"g","type":"nominal","title":null,"scale":{"domain":["CN","CR","HN","HR"],"range":["circle","square","circle","square"]}},"fill":{"field":"g","type":"nominal","title":null,"scale":{"domain":["CN","CR","HN","HR"],"range":["white","white","black","black"]}}}},
{"data":{"name":"lt"},"transform":[{"filter":"datum.p=='E'"}],"mark":{"type":"text","align":"left","baseline":"middle","dx":3,"fontSize":12},"encoding":{"text":{"field":"t"}}}
]},
{"data":{"values":[{}]},"mark":{"type":"text","text":"Variable","align":"left","baseline":"middle","fontSize":10.5},"encoding":{"x":{"datum":-3.92,"axis":null},"y":{"datum":197.7,"axis":null}}},
{"data":{"values":[{}]},"mark":{"type":"text","text":"P","fontStyle":"italic","align":"left","baseline":"middle","fontSize":10.5},"encoding":{"x":{"datum":2.55,"axis":null},"y":{"datum":197.7,"axis":null}}},
{"data":{"values":[{}]},"mark":{"type":"text","text":"-value","align":"left","baseline":"middle","dx":6.2,"fontSize":10.5},"encoding":{"x":{"datum":2.55,"axis":null},"y":{"datum":197.7,"axis":null}}},
{"data":{"values":[{}]},"mark":{"type":"rule","color":"#555555","strokeWidth":1},"encoding":{"x":{"datum":-3.92,"axis":null},"x2":{"datum":9.24},"y":{"datum":191.9,"axis":null}}},
{"data":{"values":[{}]},"mark":{"type":"text","text":"E*D","align":"left","baseline":"middle","fontSize":10.5},"encoding":{"x":{"datum":-3.92,"axis":null},"y":{"datum":183.8,"axis":null}}},
{"data":{"values":[{}]},"mark":{"type":"text","text":"<0.001","align":"right","baseline":"middle","fontSize":10.5},"encoding":{"x":{"datum":8.67,"axis":null},"y":{"datum":183.8,"axis":null}}},
{"data":{"values":[{}]},"mark":{"type":"text","text":"E.","align":"right","baseline":"middle","dx":-5,"dy":2,"fontSize":15},"encoding":{"x":{"datum":-5,"axis":null},"y":{"datum":200,"axis":null}}}
]},
{"width":205,"height":156,"resolve":{"axis":{"x":"independent","y":"independent"}},"layer":[
{"encoding":{"x":{"field":"d","type":"quantitative","scale":{"domain":[-5,30],"nice":false,"zero":false},"axis":{"title":null,"labels":false,"ticks":false}},
"y":{"field":"m","type":"quantitative","scale":{"domain":[20,200],"nice":false,"zero":false},"axis":{"title":null,"labels":false,"values":[20,30,40,50,60,70,80,90,100,110,120,130,140,150,160,170,180,190],"tickSize":{"condition":{"test":"(datum.value-20)%50==0","value":5},"value":3}}}},
"layer":[
{"data":{"name":"d"},"transform":[{"filter":"datum.p=='F'"}],"mark":{"type":"rule","color":"black","strokeWidth":1},"encoding":{"y":{"field":"l","type":"quantitative"},"y2":{"field":"h"}}},
{"data":{"name":"d"},"transform":[{"filter":"datum.p=='F'"},{"fold":["l","h"],"as":["k","m"]}],"mark":{"type":"tick","orient":"horizontal","color":"black","size":8,"thickness":1,"opacity":1}},
{"data":{"name":"d"},"transform":[{"filter":"datum.p=='F'&&(datum.g=='CN'||datum.g=='CR')"}],"mark":{"type":"line","interpolate":"cardinal","tension":0,"color":"black","strokeWidth":2,"strokeDash":[5,3]},"encoding":{"detail":{"field":"g"}}},
{"data":{"name":"d"},"transform":[{"filter":"datum.p=='F'&&(datum.g=='HN'||datum.g=='HR')"}],"mark":{"type":"line","interpolate":"cardinal","tension":0,"color":"black","strokeWidth":2},"encoding":{"detail":{"field":"g"}}},
{"data":{"name":"d"},"transform":[{"filter":"datum.p=='F'"}],"mark":{"type":"point","filled":false,"size":40,"stroke":"black","strokeWidth":1,"opacity":1},"encoding":{"shape":{"field":"g","type":"nominal","title":null,"scale":{"domain":["CN","CR","HN","HR"],"range":["circle","square","circle","square"]}},"fill":{"field":"g","type":"nominal","title":null,"scale":{"domain":["CN","CR","HN","HR"],"range":["white","white","black","black"]}}}},
{"data":{"name":"lt"},"transform":[{"filter":"datum.p=='F'"}],"mark":{"type":"text","align":"left","baseline":"middle","dx":3,"fontSize":12},"encoding":{"text":{"field":"t"}}}
]},
{"data":{"values":[{}]},"mark":{"type":"text","text":"Variable","align":"left","baseline":"middle","fontSize":10.5},"encoding":{"x":{"datum":-3.75,"axis":null},"y":{"datum":197.7,"axis":null}}},
{"data":{"values":[{}]},"mark":{"type":"text","text":"P","fontStyle":"italic","align":"left","baseline":"middle","fontSize":10.5},"encoding":{"x":{"datum":4.2,"axis":null},"y":{"datum":197.7,"axis":null}}},
{"data":{"values":[{}]},"mark":{"type":"text","text":"-value","align":"left","baseline":"middle","dx":6.2,"fontSize":10.5},"encoding":{"x":{"datum":4.2,"axis":null},"y":{"datum":197.7,"axis":null}}},
{"data":{"values":[{}]},"mark":{"type":"rule","color":"#555555","strokeWidth":1},"encoding":{"x":{"datum":-3.85,"axis":null},"x2":{"datum":9.16},"y":{"datum":191.9,"axis":null}}},
{"data":{"values":[{}]},"mark":{"type":"text","text":"E*D","align":"left","baseline":"middle","fontSize":10.5},"encoding":{"x":{"datum":-3.75,"axis":null},"y":{"datum":183.8,"axis":null}}},
{"data":{"values":[{}]},"mark":{"type":"text","text":"<0.001","align":"right","baseline":"middle","fontSize":10.5},"encoding":{"x":{"datum":8.87,"axis":null},"y":{"datum":183.8,"axis":null}}},
{"data":{"values":[{}]},"mark":{"type":"text","text":"F.","align":"right","baseline":"middle","dx":-2,"dy":2,"fontSize":15},"encoding":{"x":{"datum":-5,"axis":null},"y":{"datum":200,"axis":null}}}
]},
{"width":209,"height":157,"resolve":{"axis":{"x":"independent","y":"independent"}},"layer":[
{"encoding":{"x":{"field":"d","type":"quantitative","scale":{"domain":[-5,30],"nice":false,"zero":false},"axis":{"title":"Day","values":[-5,0,5,10,15,20,25,30],"labelExpr":"datum.value<0?'-'+abs(datum.value):''+datum.value","ticks":false,"tickSize":0,"labelPadding":8,"titlePadding":7,"labelFlush":false,"labelOverlap":false}},
"y":{"field":"m","type":"quantitative","scale":{"domain":[0,3.85],"nice":false,"zero":false},"axis":{"title":"H₂O Intake, L","values":[0,0.2,0.4,0.6,0.8,1,1.2,1.4,1.6,1.8,2,2.2,2.4,2.6,2.8,3,3.2,3.4,3.6,3.8],"labelExpr":"round(datum.value*10)%10==0?format(datum.value,'.0f'):''","tickSize":{"condition":{"test":"round(datum.value*10)%10==0","value":5},"value":3},"labelPadding":3,"titlePadding":17,"labelOverlap":false,"labelFlush":false,"labelBound":false}}},
"layer":[
{"data":{"name":"d"},"transform":[{"filter":"datum.p=='G'"}],"mark":{"type":"rule","color":"black","strokeWidth":1},"encoding":{"y":{"field":"l","type":"quantitative"},"y2":{"field":"h"}}},
{"data":{"name":"d"},"transform":[{"filter":"datum.p=='G'"},{"fold":["l","h"],"as":["k","m"]}],"mark":{"type":"tick","orient":"horizontal","color":"black","size":8,"thickness":1,"opacity":1}},
{"data":{"name":"d"},"transform":[{"filter":"datum.p=='G'&&(datum.g=='CN'||datum.g=='CR')"}],"mark":{"type":"line","interpolate":"cardinal","tension":0,"color":"black","strokeWidth":2,"strokeDash":[5,3]},"encoding":{"detail":{"field":"g"}}},
{"data":{"name":"d"},"transform":[{"filter":"datum.p=='G'&&(datum.g=='HN'||datum.g=='HR')"}],"mark":{"type":"line","interpolate":"cardinal","tension":0,"color":"black","strokeWidth":2},"encoding":{"detail":{"field":"g"}}},
{"data":{"name":"d"},"transform":[{"filter":"datum.p=='G'"}],"mark":{"type":"point","filled":false,"size":40,"stroke":"black","strokeWidth":1,"opacity":1},"encoding":{"shape":{"field":"g","type":"nominal","title":null,"scale":{"domain":["CN","CR","HN","HR"],"range":["circle","square","circle","square"]}},"fill":{"field":"g","type":"nominal","title":null,"scale":{"domain":["CN","CR","HN","HR"],"range":["white","white","black","black"]}}}}
]},
{"data":{"values":[{}]},"mark":{"type":"text","text":"Variable","align":"left","baseline":"middle","fontSize":10.5},"encoding":{"x":{"datum":-4.21,"axis":null},"y":{"datum":3.73,"axis":null}}},
{"data":{"values":[{}]},"mark":{"type":"text","text":"P","fontStyle":"italic","align":"left","baseline":"middle","fontSize":10.5},"encoding":{"x":{"datum":1.92,"axis":null},"y":{"datum":3.73,"axis":null}}},
{"data":{"values":[{}]},"mark":{"type":"text","text":"-value","align":"left","baseline":"middle","dx":6.2,"fontSize":10.5},"encoding":{"x":{"datum":1.92,"axis":null},"y":{"datum":3.73,"axis":null}}},
{"data":{"values":[{}]},"mark":{"type":"rule","color":"#555555","strokeWidth":1},"encoding":{"x":{"datum":-4.38,"axis":null},"x2":{"datum":7.9},"y":{"datum":3.61,"axis":null}}},
{"data":{"values":[{}]},"mark":{"type":"text","text":"Envir.","align":"left","baseline":"middle","fontSize":10.5},"encoding":{"x":{"datum":-4.21,"axis":null},"y":{"datum":3.41,"axis":null}}},
{"data":{"values":[{}]},"mark":{"type":"text","text":"<0.001","align":"right","baseline":"middle","fontSize":10.5},"encoding":{"x":{"datum":7.9,"axis":null},"y":{"datum":3.41,"axis":null}}},
{"data":{"values":[{}]},"mark":{"type":"text","text":"G.","align":"right","baseline":"middle","dx":-8,"dy":-2,"fontSize":15},"encoding":{"x":{"datum":-5,"axis":null},"y":{"datum":3.85,"axis":null}}}
]},
{"width":204,"height":157,"resolve":{"axis":{"x":"independent","y":"independent"}},"layer":[
{"encoding":{"x":{"field":"d","type":"quantitative","scale":{"domain":[-5,30],"nice":false,"zero":false},"axis":{"title":"Day","values":[-5,0,5,10,15,20,25,30],"labelExpr":"datum.value<0?'-'+abs(datum.value):''+datum.value","ticks":false,"tickSize":0,"labelPadding":8,"titlePadding":7,"labelFlush":false,"labelOverlap":false}},
"y":{"field":"m","type":"quantitative","scale":{"domain":[0,3.85],"nice":false,"zero":false},"axis":{"title":null,"labels":false,"values":[0,0.2,0.4,0.6,0.8,1,1.2,1.4,1.6,1.8,2,2.2,2.4,2.6,2.8,3,3.2,3.4,3.6,3.8],"tickSize":{"condition":{"test":"round(datum.value*10)%10==0","value":5},"value":3}}}},
"layer":[
{"data":{"name":"d"},"transform":[{"filter":"datum.p=='H'"}],"mark":{"type":"rule","color":"black","strokeWidth":1},"encoding":{"y":{"field":"l","type":"quantitative"},"y2":{"field":"h"}}},
{"data":{"name":"d"},"transform":[{"filter":"datum.p=='H'"},{"fold":["l","h"],"as":["k","m"]}],"mark":{"type":"tick","orient":"horizontal","color":"black","size":8,"thickness":1,"opacity":1}},
{"data":{"name":"d"},"transform":[{"filter":"datum.p=='H'&&(datum.g=='CN'||datum.g=='CR')"}],"mark":{"type":"line","interpolate":"cardinal","tension":0,"color":"black","strokeWidth":2,"strokeDash":[5,3]},"encoding":{"detail":{"field":"g"}}},
{"data":{"name":"d"},"transform":[{"filter":"datum.p=='H'&&(datum.g=='HN'||datum.g=='HR')"}],"mark":{"type":"line","interpolate":"cardinal","tension":0,"color":"black","strokeWidth":2},"encoding":{"detail":{"field":"g"}}},
{"data":{"name":"d"},"transform":[{"filter":"datum.p=='H'"}],"mark":{"type":"point","filled":false,"size":40,"stroke":"black","strokeWidth":1,"opacity":1},"encoding":{"shape":{"field":"g","type":"nominal","title":null,"scale":{"domain":["CN","CR","HN","HR"],"range":["circle","square","circle","square"]}},"fill":{"field":"g","type":"nominal","title":null,"scale":{"domain":["CN","CR","HN","HR"],"range":["white","white","black","black"]}}}}
]},
{"data":{"values":[{}]},"mark":{"type":"text","text":"Variable","align":"left","baseline":"middle","fontSize":10.5},"encoding":{"x":{"datum":-3.63,"axis":null},"y":{"datum":3.78,"axis":null}}},
{"data":{"values":[{}]},"mark":{"type":"text","text":"P","fontStyle":"italic","align":"left","baseline":"middle","fontSize":10.5},"encoding":{"x":{"datum":2.77,"axis":null},"y":{"datum":3.78,"axis":null}}},
{"data":{"values":[{}]},"mark":{"type":"text","text":"-value","align":"left","baseline":"middle","dx":6.2,"fontSize":10.5},"encoding":{"x":{"datum":2.77,"axis":null},"y":{"datum":3.78,"axis":null}}},
{"data":{"values":[{}]},"mark":{"type":"rule","color":"#555555","strokeWidth":1},"encoding":{"x":{"datum":-3.75,"axis":null},"x2":{"datum":8.67},"y":{"datum":3.65,"axis":null}}},
{"data":{"values":[{}]},"mark":{"type":"text","text":["Envir.","Day"],"lineHeight":12,"align":"left","baseline":"middle","fontSize":10.5},"encoding":{"x":{"datum":-3.63,"axis":null},"y":{"datum":3.432,"axis":null}}},
{"data":{"values":[{}]},"mark":{"type":"text","text":["<0.001","0.02"],"lineHeight":12,"align":"right","baseline":"middle","fontSize":10.5},"encoding":{"x":{"datum":8.67,"axis":null},"y":{"datum":3.432,"axis":null}}},
{"data":{"values":[{}]},"mark":{"type":"text","text":"H.","align":"right","baseline":"middle","dx":-7,"dy":-2,"fontSize":15},"encoding":{"x":{"datum":-5,"axis":null},"y":{"datum":3.85,"axis":null}}}
]},
{"width":205,"height":157,"resolve":{"axis":{"x":"independent","y":"independent"}},"layer":[
{"encoding":{"x":{"field":"d","type":"quantitative","scale":{"domain":[-5,30],"nice":false,"zero":false},"axis":{"title":"Day","values":[-5,0,5,10,15,20,25,30],"labelExpr":"datum.value<0?'-'+abs(datum.value):''+datum.value","ticks":false,"tickSize":0,"labelPadding":8,"titlePadding":7,"labelFlush":false,"labelOverlap":false}},
"y":{"field":"m","type":"quantitative","scale":{"domain":[0,3.85],"nice":false,"zero":false},"axis":{"title":null,"labels":false,"values":[0,0.2,0.4,0.6,0.8,1,1.2,1.4,1.6,1.8,2,2.2,2.4,2.6,2.8,3,3.2,3.4,3.6,3.8],"tickSize":{"condition":{"test":"round(datum.value*10)%10==0","value":5},"value":3}}}},
"layer":[
{"data":{"name":"d"},"transform":[{"filter":"datum.p=='I'"}],"mark":{"type":"rule","color":"black","strokeWidth":1},"encoding":{"y":{"field":"l","type":"quantitative"},"y2":{"field":"h"}}},
{"data":{"name":"d"},"transform":[{"filter":"datum.p=='I'"},{"fold":["l","h"],"as":["k","m"]}],"mark":{"type":"tick","orient":"horizontal","color":"black","size":8,"thickness":1,"opacity":1}},
{"data":{"name":"d"},"transform":[{"filter":"datum.p=='I'&&(datum.g=='CN'||datum.g=='CR')"}],"mark":{"type":"line","interpolate":"cardinal","tension":0,"color":"black","strokeWidth":2,"strokeDash":[5,3]},"encoding":{"detail":{"field":"g"}}},
{"data":{"name":"d"},"transform":[{"filter":"datum.p=='I'&&(datum.g=='HN'||datum.g=='HR')"}],"mark":{"type":"line","interpolate":"cardinal","tension":0,"color":"black","strokeWidth":2},"encoding":{"detail":{"field":"g"}}},
{"data":{"name":"d"},"transform":[{"filter":"datum.p=='I'"}],"mark":{"type":"point","filled":false,"size":40,"stroke":"black","strokeWidth":1,"opacity":1},"encoding":{"shape":{"field":"g","type":"nominal","title":null,"scale":{"domain":["CN","CR","HN","HR"],"range":["circle","square","circle","square"]}},"fill":{"field":"g","type":"nominal","title":null,"scale":{"domain":["CN","CR","HN","HR"],"range":["white","white","black","black"]}}}},
{"data":{"name":"lt"},"transform":[{"filter":"datum.p=='I'"}],"mark":{"type":"text","align":"left","baseline":"middle","dx":3,"fontSize":12},"encoding":{"text":{"field":"t"}}}
]},
{"data":{"values":[{}]},"mark":{"type":"text","text":"Variable","align":"left","baseline":"middle","fontSize":10.5},"encoding":{"x":{"datum":17.99,"axis":null},"y":{"datum":3.65,"axis":null}}},
{"data":{"values":[{}]},"mark":{"type":"text","text":"P","fontStyle":"italic","align":"left","baseline":"middle","fontSize":10.5},"encoding":{"x":{"datum":24.8,"axis":null},"y":{"datum":3.65,"axis":null}}},
{"data":{"values":[{}]},"mark":{"type":"text","text":"-value","align":"left","baseline":"middle","dx":6.2,"fontSize":10.5},"encoding":{"x":{"datum":24.8,"axis":null},"y":{"datum":3.65,"axis":null}}},
{"data":{"values":[{}]},"mark":{"type":"rule","color":"#555555","strokeWidth":1},"encoding":{"x":{"datum":17.9,"axis":null},"x2":{"datum":30.8},"y":{"datum":3.53,"axis":null}}},
{"data":{"values":[{}]},"mark":{"type":"text","text":"E*D","align":"left","baseline":"middle","fontSize":10.5},"encoding":{"x":{"datum":17.99,"axis":null},"y":{"datum":3.39,"axis":null}}},
{"data":{"values":[{}]},"mark":{"type":"text","text":"0.02","align":"right","baseline":"middle","fontSize":10.5},"encoding":{"x":{"datum":29.6,"axis":null},"y":{"datum":3.39,"axis":null}}},
{"data":{"values":[{}]},"mark":{"type":"text","text":"I.","align":"right","baseline":"middle","dx":-5,"dy":-2,"fontSize":15},"encoding":{"x":{"datum":-5,"axis":null},"y":{"datum":3.85,"axis":null}}}
]}
]
}
